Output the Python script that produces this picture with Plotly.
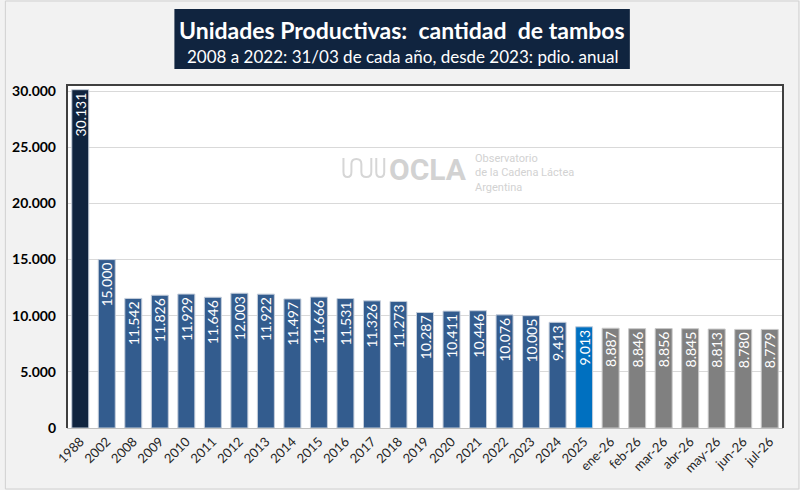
import plotly.graph_objects as go

# Datos: cantidad de tambos
periodos = ["1988", "2002", "2008", "2009", "2010", "2011", "2012", "2013", "2014",
            "2015", "2016", "2017", "2018", "2019", "2020", "2021", "2022", "2023",
            "2024", "2025", "ene-26", "feb-26", "mar-26", "abr-26", "may-26",
            "jun-26", "jul-26"]
tambos = [30131, 15000, 11542, 11826, 11929, 11646, 12003, 11922, 11497,
          11666, 11531, 11326, 11273, 10287, 10411, 10446, 10076, 10005,
          9413, 9013, 8887, 8846, 8856, 8845, 8813, 8780, 8779]
grupo = ["base"] + ["anual"] * 18 + ["actual"] + ["mensual"] * 7

y_ticks = [0, 5000, 10000, 15000, 20000, 25000, 30000]

colores = {"base": "#10243f", "anual": "#335c8e", "actual": "#0070c0", "mensual": "#808080"}
bordes = {"base": "#c5cedb", "anual": "#c5cedb", "actual": "#c5cedb", "mensual": "#c8c8c8"}

W, H = 800, 490
L, R, T, B = 63, 17, 85, 62
pw, ph = W - L - R, H - T - B

FONT = "Lato"

fig = go.Figure()
fig.add_trace(go.Bar(
    x=periodos,
    y=tambos,
    marker=dict(color=[colores[g] for g in grupo],
                line=dict(color=[bordes[g] for g in grupo], width=1)),
    texttemplate="%{y:,}",
    textposition="inside",
    insidetextanchor="end",
    textangle=-90,
    textfont=dict(family=FONT, size=14, color="white"),
    hoverinfo="x+y",
))

def px_x(x):
    return (x - L) / pw

def px_y(y):
    return (H - B - y) / ph

shapes = [
    # borde exterior
    dict(type="rect", xref="paper", yref="paper",
         x0=px_x(1), x1=px_x(W - 1), y0=px_y(H - 1), y1=px_y(1),
         line=dict(color="#d0d0d0", width=1), layer="below"),
    # recuadro del titulo
    dict(type="rect", xref="paper", yref="paper",
         x0=px_x(171), x1=px_x(629), y0=px_y(69), y1=px_y(9),
         fillcolor="#10243f", line=dict(color="#10243f", width=0)),
    # borde del area de grafico
    dict(type="path", xref="paper", yref="paper",
         path="M 0,0 L 0,1 L 1,1 L 1,0",
         line=dict(color="#404040", width=2)),
    # logo ondas
    dict(type="path", xref="paper", yref="paper",
         path=("M {a},{b} L {a},{c} Q {a},{d} {e},{d} Q {f},{d} {f},{c} L {f},{g} "
               "Q {f},{h} {i},{h} Q {j},{h} {j},{g} L {j},{c} Q {j},{d} {k},{d} "
               "Q {l},{d} {l},{c} L {l},{b}").format(
             a=px_x(341), b=px_y(158), c=px_y(172), d=px_y(177), e=px_x(345),
             f=px_x(349), g=px_y(164), h=px_y(159), i=px_x(354), j=px_x(359),
             k=px_x(364), l=px_x(369)),
         line=dict(color="#d6d6d6", width=2)),
    dict(type="path", xref="paper", yref="paper",
         path="M {a},{b} L {a},{c} Q {a},{d} {e},{d} Q {f},{d} {f},{c} L {f},{b}".format(
             a=px_x(374), b=px_y(158), c=px_y(172), d=px_y(177), e=px_x(378), f=px_x(382)),
         line=dict(color="#d6d6d6", width=2)),
]

annotations = [
    dict(text="<b>Unidades Productivas:  cantidad  de tambos</b>",
         xref="paper", yref="paper", x=px_x(400), y=px_y(30),
         showarrow=False, xanchor="center", yanchor="middle",
         font=dict(family=FONT, size=23, color="white")),
    dict(text="2008 a 2022: 31/03 de cada año, desde 2023: pdio. anual",
         xref="paper", yref="paper", x=px_x(400), y=px_y(56),
         showarrow=False, xanchor="center", yanchor="middle",
         font=dict(family=FONT, size=17, color="white")),
    dict(text="<b>OCLA</b>",
         xref="paper", yref="paper", x=px_x(385), y=px_y(169),
         showarrow=False, xanchor="left", yanchor="middle",
         font=dict(family="Roboto", size=30, color="#d2d2d2")),
    dict(text="Observatorio<br>de la Cadena Láctea<br>Argentina",
         xref="paper", yref="paper", x=px_x(471), y=px_y(173),
         showarrow=False, xanchor="left", yanchor="middle", align="left",
         font=dict(family="Roboto", size=11, color="#d2d2d2")),
]

fig.update_layout(
    width=W, height=H,
    margin=dict(l=L, r=R, t=T, b=B),
    paper_bgcolor="#f2f2f2",
    plot_bgcolor="white",
    separators=",.",
    bargap=0.36,
    showlegend=False,
    uniformtext=dict(minsize=12, mode="show"),
    shapes=shapes,
    annotations=annotations,
    font=dict(family=FONT),
)
fig.update_xaxes(
    tickangle=-45,
    tickfont=dict(family=FONT, size=13, color="#262626"),
    showline=True, linecolor="#bfbfbf", linewidth=1,
    ticks="", showgrid=False,
)
fig.update_yaxes(
    range=[0, 30550],
    tickvals=y_ticks,
    tickformat=",",
    tickfont=dict(family=FONT, size=14, color="black", weight="bold"),
    showgrid=True, gridcolor="#d9d9d9", gridwidth=1,
    zeroline=False, showline=False, ticks="",
    ticklabelstandoff=10,
)

fig.write_html("out.html", config={"displayModeBar": False},
               post_script="document.body.style.margin='0';")
